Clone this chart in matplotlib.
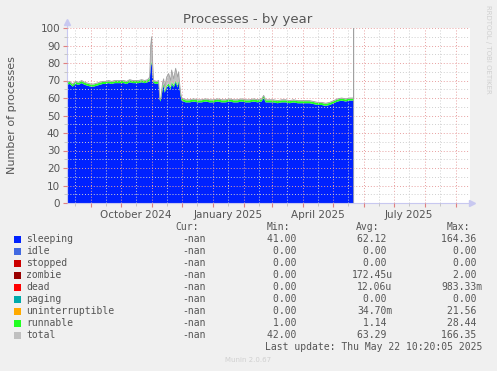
import matplotlib
matplotlib.use("Agg")
import matplotlib.pyplot as plt
import matplotlib.dates as mdates
import pandas as pd
from matplotlib.patches import Rectangle
from matplotlib.ticker import FuncFormatter, MultipleLocator

# Data
dates = [
    '2024-08-08', '2024-08-11', '2024-08-14', '2024-08-17', '2024-08-20', '2024-08-23', '2024-08-26', '2024-08-29',
    '2024-09-01', '2024-09-04', '2024-09-07', '2024-09-10', '2024-09-13', '2024-09-16', '2024-09-19', '2024-09-22',
    '2024-09-25', '2024-09-28',
    '2024-10-01', '2024-10-04', '2024-10-07', '2024-10-10', '2024-10-13', '2024-10-16', '2024-10-19', '2024-10-22',
    '2024-10-25', '2024-10-28', '2024-10-30', '2024-10-31',
    '2024-11-01', '2024-11-02', '2024-11-03', '2024-11-06', '2024-11-08', '2024-11-09', '2024-11-10', '2024-11-12',
    '2024-11-13', '2024-11-14', '2024-11-16', '2024-11-18', '2024-11-20', '2024-11-21', '2024-11-23', '2024-11-25',
    '2024-11-27', '2024-11-28', '2024-11-29', '2024-11-30',
    '2024-12-01', '2024-12-05', '2024-12-09', '2024-12-13', '2024-12-17', '2024-12-21', '2024-12-25', '2024-12-29',
    '2025-01-02', '2025-01-06', '2025-01-10', '2025-01-14', '2025-01-18', '2025-01-22', '2025-01-26', '2025-01-30',
    '2025-02-03', '2025-02-07', '2025-02-11', '2025-02-15', '2025-02-19', '2025-02-21', '2025-02-23', '2025-02-27',
    '2025-03-03', '2025-03-07', '2025-03-11', '2025-03-15', '2025-03-19', '2025-03-23', '2025-03-27', '2025-03-31',
    '2025-04-04', '2025-04-08', '2025-04-12', '2025-04-16', '2025-04-20', '2025-04-24', '2025-04-28',
    '2025-05-02', '2025-05-06', '2025-05-10', '2025-05-14', '2025-05-18', '2025-05-22',
]

sleeping = [
    67.5, 68.0, 66.5, 68.0, 67.5, 68.5, 67.5, 67.0,
    66.5, 66.5, 67.0, 67.5, 68.0, 68.0, 68.5, 68.0, 68.5, 68.5,
    68.5, 68.5, 68.0, 69.0, 68.5, 68.5, 68.5, 69.0, 68.5, 69.0, 70.0, 78.0,
    80.0, 72.0, 68.5, 68.0, 68.5, 59.0, 58.0, 65.0, 67.0, 63.0, 66.0, 67.0, 65.0, 68.0, 66.0, 69.0, 66.0, 69.0, 65.0, 61.0,
    58.5, 57.5, 57.5, 58.0, 57.5, 57.5, 58.0, 57.5,
    57.5, 58.0, 57.5, 57.5, 58.0, 57.5, 57.5, 58.0,
    57.5, 57.5, 58.0, 57.5, 58.0, 60.0, 57.5, 57.5,
    57.5, 57.0, 57.5, 57.5, 57.0, 57.5, 57.0, 57.0,
    57.0, 57.0, 56.5, 56.0, 56.0, 55.5, 56.0,
    57.0, 58.0, 58.5, 58.0, 58.5, 58.5,
]

runnable = [
    1.2, 1.2, 1.2, 1.2, 1.2, 1.2, 1.2, 1.2,
    1.2, 1.2, 1.2, 1.2, 1.2, 1.2, 1.2, 1.2, 1.2, 1.2,
    1.2, 1.2, 1.2, 1.2, 1.2, 1.2, 1.2, 1.2, 1.2, 1.2, 1.2, 1.0,
    1.0, 1.0, 1.2, 1.2, 1.2, 0.5, 1.2, 1.2, 1.2, 1.2, 1.2, 1.2, 1.2, 1.2, 1.2, 1.2, 1.2, 1.2, 1.2, 1.2,
    1.2, 1.2, 1.2, 1.2, 1.2, 1.2, 1.2, 1.2,
    1.2, 1.2, 1.2, 1.2, 1.2, 1.2, 1.2, 1.2,
    1.2, 1.2, 1.2, 1.2, 1.2, 1.2, 1.2, 1.2,
    1.2, 1.2, 1.2, 1.2, 1.2, 1.2, 1.2, 1.2,
    1.2, 1.2, 1.2, 1.2, 1.2, 1.2, 1.2,
    1.2, 1.2, 1.2, 1.2, 1.2, 1.2,
]

total = [
    69.0, 69.5, 68.0, 69.5, 69.0, 70.0, 69.0, 68.5,
    68.0, 68.0, 68.5, 69.0, 69.5, 69.5, 70.0, 69.5, 70.0, 70.0,
    70.0, 70.0, 69.5, 70.5, 70.0, 70.0, 70.0, 70.5, 70.0, 70.5, 72.0, 90.0,
    95.0, 80.0, 70.0, 69.5, 70.0, 59.5, 59.5, 69.0, 71.0, 66.0, 72.0, 74.0, 70.0, 76.0, 71.0, 77.0, 72.0, 75.0, 68.0, 63.0,
    60.0, 59.0, 59.0, 59.5, 59.0, 59.0, 59.5, 59.0,
    59.0, 59.5, 59.0, 59.0, 59.5, 59.0, 59.0, 59.5,
    59.0, 59.0, 59.5, 59.0, 59.5, 61.5, 59.0, 59.0,
    59.0, 58.5, 59.0, 59.0, 58.5, 59.0, 58.5, 58.5,
    58.5, 58.5, 58.0, 57.5, 57.5, 57.0, 57.5,
    58.5, 59.5, 60.0, 59.5, 60.0, 60.0,
]

# last sample of total: jump to its max, then drop
end_dates = ['2025-05-22', '2025-05-22']
end_total = [166.35, 0.0]

legend_names = ['sleeping', 'idle', 'stopped', 'zombie', 'dead', 'paging',
                'uninterruptible', 'runnable', 'total']
legend_colors = ['#0022ff', '#4169e1', '#cc0000', '#990000', '#ff0000', '#00aaaa',
                 '#ffaa00', '#22ff22', '#c0c0c0']
cur_vals = ['-nan'] * 9
min_vals = ['41.00 ', '0.00 ', '0.00 ', '0.00 ', '0.00 ', '0.00 ', '0.00 ', '1.00 ', '42.00 ']
avg_vals = ['62.12 ', '0.00 ', '0.00 ', '172.45u', '12.06u', '0.00 ', '34.70m', '1.14 ', '63.29 ']
max_vals = ['164.36 ', '0.00 ', '0.00 ', '2.00 ', '983.33m', '0.00 ', '21.56 ', '28.44 ', '166.35 ']

W, H = 497, 371
txt = '#555555'

x = pd.to_datetime(dates)
x_end = pd.to_datetime(end_dates)
top = [s + r for s, r in zip(sleeping, runnable)]

fig = plt.figure(figsize=(W / 100, H / 100), dpi=100, facecolor='#f0f0f0')
ax = fig.add_axes([67 / W, 1 - 203 / H, (470 - 67) / W, (203 - 28) / H])
ax.set_facecolor('white')

ax.stackplot(x, sleeping, runnable, colors=['#0022ff', '#22ff22'], lw=0, zorder=2)
ax.fill_between(x, top, total, where=[t > s for t, s in zip(total, top)],
                color='#c0c0c0', lw=0, interpolate=True, zorder=2)
ax.plot(list(x) + list(x_end), total + end_total, color='#a0a0a0', lw=0.6, zorder=3)

ax.set_xlim(pd.Timestamp('2024-08-08 08:00'), pd.Timestamp('2025-09-15 08:00'))
ax.set_ylim(0, 100)

# grid: month starts red, mid-month gray
ax.xaxis.set_major_locator(mdates.MonthLocator(bymonthday=1))
ax.xaxis.set_minor_locator(mdates.MonthLocator(bymonthday=16))
ax.xaxis.set_major_formatter(FuncFormatter(lambda v, p: ''))


def month_label(v, p):
    d = mdates.num2date(v)
    return d.strftime('%B %Y') if d.month in (1, 4, 7, 10) else ''


ax.xaxis.set_minor_formatter(FuncFormatter(month_label))
ax.yaxis.set_major_locator(MultipleLocator(10))
ax.yaxis.set_minor_locator(MultipleLocator(5))

ax.grid(which='major', color='#e8a0a0', linestyle=(0, (1, 2)), lw=0.7, zorder=4)
ax.grid(which='minor', color='#cfcfcf', linestyle=(0, (1, 2)), lw=0.7, zorder=4)
ax.set_axisbelow(False)

ax.tick_params(which='major', axis='both', length=3, color='#e08080', labelsize=7.5, labelcolor=txt)
ax.tick_params(which='minor', axis='both', length=2, color='#c0c0c0', labelsize=7.5, labelcolor=txt)
ax.tick_params(axis='x', which='minor', pad=3)
ax.tick_params(axis='y', pad=2)

for s in ['top', 'right']:
    ax.spines[s].set_visible(False)
for s in ['left', 'bottom']:
    ax.spines[s].set_color('#c8c8f0')
    ax.spines[s].set_linewidth(0.8)
ax.plot([0, 0], [1, 1.03], transform=ax.transAxes, color='#c8c8f0', lw=0.8, clip_on=False)
ax.plot([0], [1.035], marker='^', ms=4, color='#c8c8f0', transform=ax.transAxes, clip_on=False)
ax.plot([1, 1.004], [0, 0], transform=ax.transAxes, color='#c8c8f0', lw=0.8, clip_on=False)
ax.plot([1.006], [0], marker='>', ms=4, color='#c8c8f0', transform=ax.transAxes, clip_on=False)

ax.set_ylabel('Number of processes', fontsize=8, color=txt)
ax.yaxis.set_label_coords((17 - 67) / (470 - 67), 0.5)


def ftext(px, py, s, **kw):
    fig.text(px / W, 1 - py / H, s, **kw)


ftext(248, 19, 'Processes - by year', fontsize=9.5, color=txt, ha='center', va='center')
ftext(488, 5, 'RRDTOOL / TOBI OETIKER', fontsize=5, color='#d0d0d0', rotation=270,
      ha='center', va='top')

mono = dict(family='DejaVu Sans Mono', fontsize=7, color=txt, va='center')
ftext(199, 227, 'Cur:', ha='right', **mono)
ftext(290, 227, 'Min:', ha='right', **mono)
ftext(379, 227, 'Avg:', ha='right', **mono)
ftext(470, 227, 'Max:', ha='right', **mono)

for i, name in enumerate(legend_names):
    yy = 239 + 12 * i
    fig.add_artist(Rectangle((14 / W, 1 - (yy + 3.5) / H), 7 / W, 7 / H,
                             transform=fig.transFigure, color=legend_colors[i], lw=0))
    ftext(26, yy, name, ha='left', **mono)
    ftext(205.5, yy, cur_vals[i], ha='right', **mono)
    ftext(302.5, yy, min_vals[i], ha='right', **mono)
    ftext(392.5, yy, avg_vals[i], ha='right', **mono)
    ftext(482.5, yy, max_vals[i], ha='right', **mono)

ftext(482.5, 347, 'Last update: Thu May 22 10:20:05 2025', ha='right', **mono)
ftext(248, 360, 'Munin 2.0.67', fontsize=5, color='#d0d0d0', ha='center', va='center')

plt.savefig('out.png', dpi=100, facecolor=fig.get_facecolor())
